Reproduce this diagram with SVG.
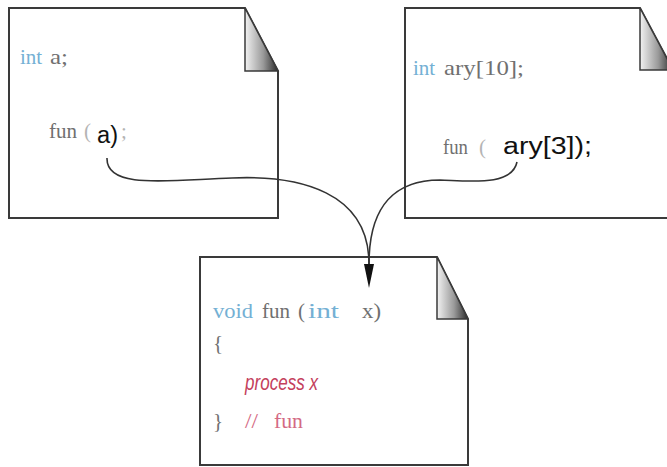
<svg xmlns="http://www.w3.org/2000/svg" width="667" height="467" viewBox="0 0 667 467">
  <defs>
    <linearGradient id="foldShade" x1="0" y1="0" x2="1" y2="0">
      <stop offset="0" stop-color="#f2f2f2"/>
      <stop offset="0.55" stop-color="#9a9a9a"/>
      <stop offset="1" stop-color="#2a2a2a"/>
    </linearGradient>
    <marker id="arrowHead" viewBox="0 0 24 10" refX="0" refY="5" markerWidth="24" markerHeight="10" markerUnits="userSpaceOnUse" orient="auto">
      <path d="M0,0 L24,5 L0,10 z" fill="#111"/>
    </marker>
    <style>
      .page { fill: #ffffff; stroke: #3a3a3a; stroke-width: 2; stroke-linejoin: miter; }
      .fold { fill: url(#foldShade); stroke: #3a3a3a; stroke-width: 1.5; }
      .code { font-family: "Liberation Serif", "Times New Roman", serif; font-size: 21px; fill: #707070; }
      .kw { fill: #74b0d4; }
      .faint { fill: #b4b4b4; }
      .arg { font-family: "Liberation Sans", Arial, sans-serif; font-size: 23px; fill: #111111; }
      .proc { font-family: "Liberation Sans", Arial, sans-serif; font-size: 22px; font-style: italic; fill: #c4405c; }
      .cmt { fill: #d46a84; }
      .wire { fill: none; stroke: #333333; stroke-width: 1.6; }
    </style>
  </defs>

  <rect width="667" height="467" fill="#ffffff"/>

  <!-- caller: scalar argument -->
  <g id="caller-scalar">
    <path class="page" d="M9,8 H245 L278,71 V218 H9 Z"/>
    <path class="fold" d="M245,8 V71 H278 Z"/>
    <text class="code kw" x="20" y="64">int</text>
    <text class="code" x="50" y="64" textLength="18" lengthAdjust="spacingAndGlyphs">a;</text>
    <text class="code" x="49" y="138" textLength="28" lengthAdjust="spacingAndGlyphs">fun</text>
    <text class="code faint" x="84" y="138">(</text>
    <text class="arg" x="97" y="143" textLength="21" lengthAdjust="spacingAndGlyphs">a)</text>
    <text class="code faint" x="121" y="138">;</text>
  </g>

  <!-- caller: array element argument -->
  <g id="caller-array">
    <path class="page" d="M405,8 H640 L673,70 V218 H405 Z"/>
    <path class="fold" d="M640,8 V70 H673 Z"/>
    <text class="code kw" x="413" y="75">int</text>
    <text class="code" x="444" y="75" textLength="80" lengthAdjust="spacingAndGlyphs">ary[10];</text>
    <text class="code" x="443" y="154" textLength="25" lengthAdjust="spacingAndGlyphs">fun</text>
    <text class="code faint" x="479" y="154">(</text>
    <text class="arg" x="503" y="154" textLength="89" lengthAdjust="spacingAndGlyphs">ary[3]);</text>
  </g>

  <!-- callee -->
  <g id="callee">
    <path class="page" d="M200,257 H437 L468,319 V465 H200 Z"/>
    <path class="fold" d="M437,257 V319 H468 Z"/>
    <text class="code kw" x="213" y="318" textLength="40" lengthAdjust="spacingAndGlyphs">void</text>
    <text class="code" x="262" y="318" textLength="28" lengthAdjust="spacingAndGlyphs">fun</text>
    <text class="code" x="298" y="318">(</text>
    <text class="code kw" x="308" y="318" textLength="31" lengthAdjust="spacingAndGlyphs">int</text>
    <text class="code" x="362" y="318" textLength="19" lengthAdjust="spacingAndGlyphs">x)</text>
    <text class="code" x="213" y="350">{</text>
    <text class="proc" x="245" y="390" textLength="73" lengthAdjust="spacingAndGlyphs">process x</text>
    <text class="code" x="213" y="428">}</text>
    <text class="code cmt" x="245" y="428" textLength="13" lengthAdjust="spacingAndGlyphs">//</text>
    <text class="code cmt" x="274" y="428" textLength="29" lengthAdjust="spacingAndGlyphs">fun</text>
  </g>

  <!-- argument flow into the parameter -->
  <g id="connectors">
    <path class="wire" d="M107,158 C106,190 170,180 232,178 C300,175 369,192 369,264" marker-end="url(#arrowHead)"/>
    <path class="wire" d="M517,162 C512,186 472,181 440,180 C396,180 369,205 369,264"/>
  </g>
</svg>
